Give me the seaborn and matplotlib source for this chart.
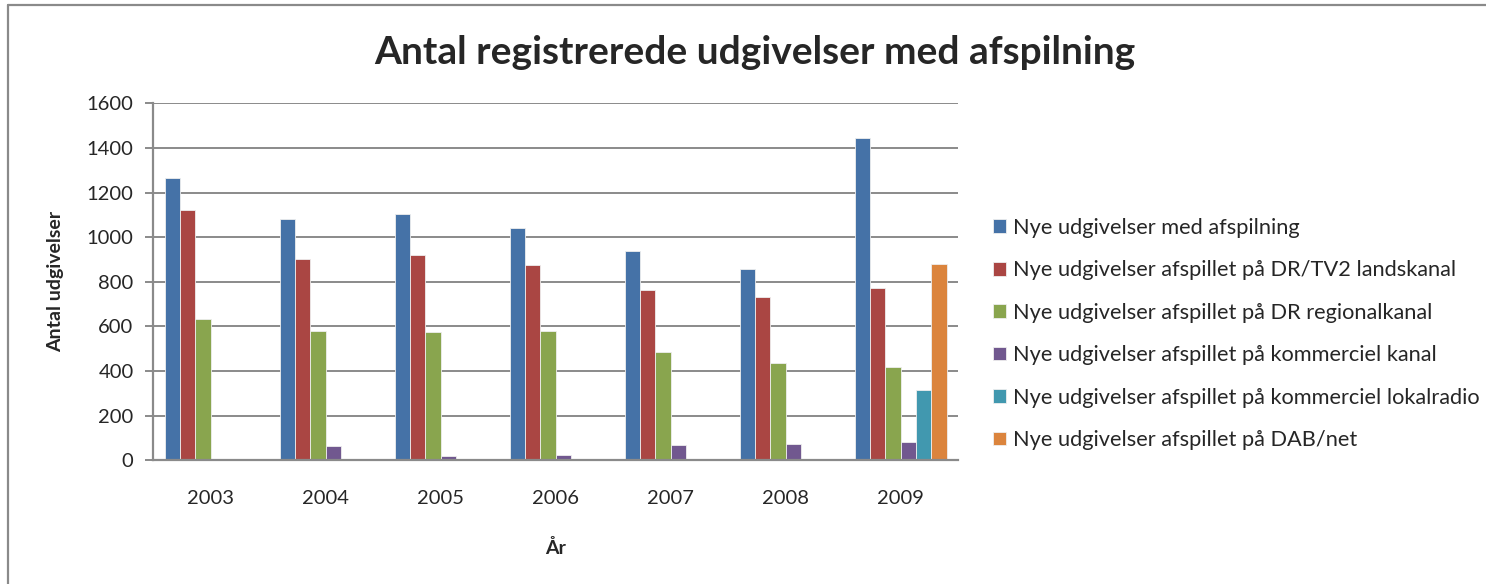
import pandas as pd
import numpy as np
import matplotlib.pyplot as plt
import seaborn as sns
from matplotlib.lines import Line2D

years = ['2003', '2004', '2005', '2006', '2007', '2008', '2009']
series = ['Nye udgivelser med afspilning',
          'Nye udgivelser afspillet på DR/TV2 landskanal',
          'Nye udgivelser afspillet på DR regionalkanal',
          'Nye udgivelser afspillet på kommerciel kanal',
          'Nye udgivelser afspillet på kommerciel lokalradio',
          'Nye udgivelser afspillet på DAB/net']
med_afspilning = [1267, 1080, 1103, 1041, 938, 856, 1445]
dr_tv2 = [1122, 901, 919, 874, 765, 731, 774]
dr_regional = [633, 578, 574, 581, 484, 438, 420]
kommerciel = [0, 63, 21, 24, 67, 72, 82]
lokalradio = [0, 0, 0, 0, 0, 0, 315]
dab_net = [0, 0, 0, 0, 0, 0, 880]
colors = ['#4572A7', '#AA4643', '#89A54E', '#71588F', '#4198AF', '#DB843D']

values = [med_afspilning, dr_tv2, dr_regional, kommerciel, lokalradio, dab_net]
rows = []
for name, vals in zip(series, values):
    for y, v in zip(years, vals):
        rows.append({'År': y, 'Serie': name, 'Antal': v})
df = pd.DataFrame(rows)

sns.set_style('white')
plt.rcParams['font.family'] = ['Lato', 'DejaVu Sans']

fig = plt.figure(figsize=(14.86, 5.84), dpi=100)
ax = fig.add_axes([0.103, 0.2118, 0.5417, 0.6113])

sns.barplot(data=df, x='År', y='Antal', hue='Serie', palette=colors,
            saturation=1, width=0.8, edgecolor='#eeeeee', linewidth=0.6, ax=ax)

ax.set_ylim(0, 1600)
ax.set_yticks(range(0, 1601, 200))
ax.grid(axis='y', color='#8a8a8a', linewidth=1.4)
ax.set_axisbelow(True)
for s in ['top', 'right']:
    ax.spines[s].set_visible(False)
for s in ['left', 'bottom']:
    ax.spines[s].set_color('#8a8a8a')
    ax.spines[s].set_linewidth(1.6)
ax.tick_params(axis='y', left=True, length=6, color='#8a8a8a', width=1.4,
               labelsize=14.5, pad=8)
ax.tick_params(axis='x', bottom=False, labelsize=14.5, pad=18)

ax.set_xlabel('År', fontsize=14, fontweight='bold', labelpad=23)
ax.set_ylabel('Antal udgivelser', fontsize=14, fontweight='bold', labelpad=16)
fig.suptitle('Antal registrerede udgivelser med afspilning', x=0.508, y=0.94,
             fontsize=28, fontweight='bold')

ax.legend(loc='upper left', bbox_to_anchor=(0.668, 0.627),
          bbox_transform=fig.transFigure, frameon=False,
          fontsize=15.7, handlelength=0.6, handleheight=0.6, handletextpad=0.32,
          labelspacing=1.03, borderpad=0, borderaxespad=0)

fig.add_artist(Line2D([0.0054, 1.0], [0.9914, 0.9914], color='#8a8a8a', lw=1.6))
fig.add_artist(Line2D([0.0054, 0.0054], [0.0, 0.9914], color='#8a8a8a', lw=1.6))

fig.savefig('out.png', dpi=100)
